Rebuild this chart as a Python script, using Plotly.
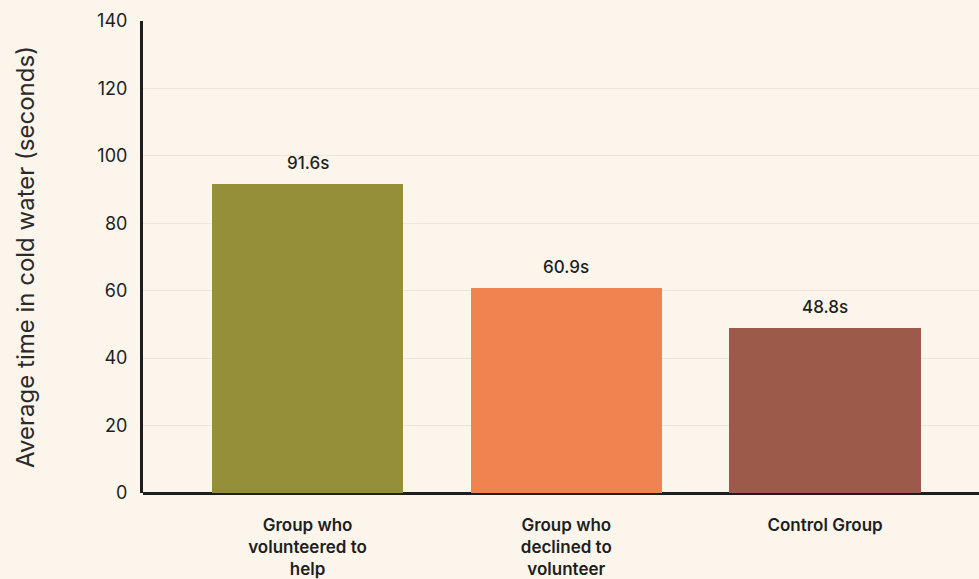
import plotly.graph_objects as go

categories = ["Group who<br>volunteered to<br>help", "Group who<br>declined to<br>volunteer", "Control Group"]
avg_seconds = [91.6, 60.9, 48.8]
bar_colors = ["#948F38", "#EF8450", "#9B5A4A"]
y_ticks = [0, 20, 40, 60, 80, 100, 120, 140]

bg = "#FBF5EC"
ink = "#1E1E1E"

fig = go.Figure(
    go.Bar(
        x=categories,
        y=avg_seconds,
        marker=dict(color=bar_colors, line=dict(width=0)),
        width=0.74,
        hoverinfo="skip",
    )
)

for cat, val in zip(categories, avg_seconds):
    fig.add_annotation(
        x=cat, y=val, text=f"{val}s", showarrow=False,
        yanchor="bottom", yshift=9,
        font=dict(family="Inter, Roboto, sans-serif", size=17, color=ink, weight=500),
    )

fig.update_layout(
    width=979, height=579,
    margin=dict(l=143, r=0, t=21, b=86),
    paper_bgcolor=bg, plot_bgcolor=bg,
    showlegend=False,
    bargap=0,
    font=dict(family="Inter, Roboto, sans-serif", color=ink),
)

fig.update_xaxes(
    range=[-0.636, 2.595],
    showgrid=False, zeroline=False,
    showline=False,
    ticks="", ticklabelstandoff=20,
    tickfont=dict(size=17, color=ink, weight=600),
)

fig.update_yaxes(
    range=[0, 140],
    tickvals=y_ticks,
    showgrid=True, gridcolor="#ECE6DC", gridwidth=1,
    zeroline=True, zerolinecolor=ink, zerolinewidth=3,
    showline=True, linecolor=ink, linewidth=3,
    ticks="", ticklabelstandoff=9,
    tickfont=dict(size=18, color=ink),
    title=dict(
        text="Average time in cold water (seconds)",
        font=dict(size=24, color="#2A2A2A"),
        standoff=56,
    ),
)

fig.write_html("out.html")
